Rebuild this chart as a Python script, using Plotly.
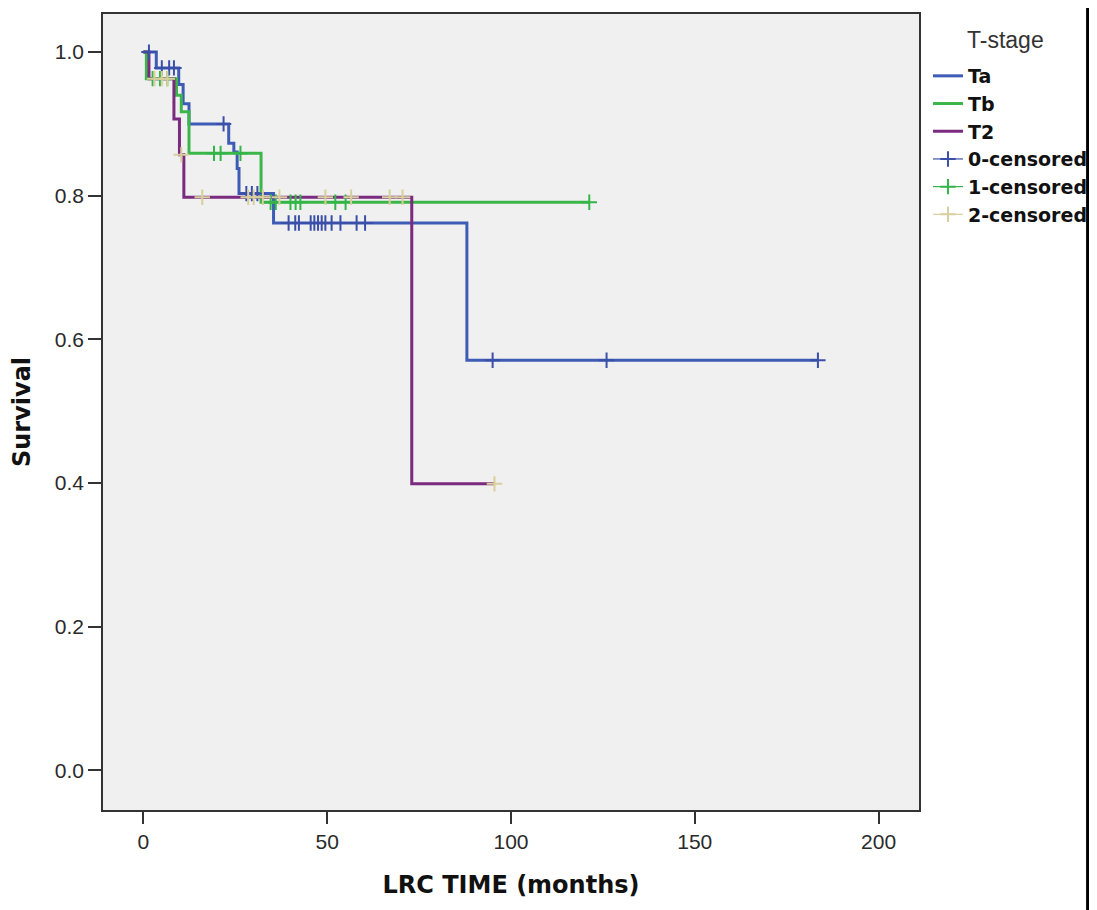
import numpy as np
import plotly.graph_objects as go

# ---- data (Kaplan-Meier curves by T-stage) ----
ta_time = [0, 3.5, 9.6, 10.8, 12.4, 23.2, 24.6, 25.5, 26.0, 35.4, 88.0]
ta_surv = [1.0, 0.978, 0.955, 0.928, 0.900, 0.873, 0.861, 0.838, 0.803, 0.762, 0.571]
ta_end = 183.5
ta_cens = [1.5, 5, 7, 8.3, 21.8, 28, 29.5, 31, 39.5, 41.3, 42.3, 45.5, 46.5, 47.5,
           48.5, 49.5, 51.2, 53.6, 58, 60.3, 95, 126, 183.5]

tb_time = [0, 0.8, 9.0, 10.3, 12.4, 32.0]
tb_surv = [1.0, 0.963, 0.940, 0.917, 0.859, 0.791]
tb_end = 121.3
tb_cens = [2.5, 4.5, 6.5, 19.2, 21, 26.4, 34.6, 36, 40, 41.4, 42.7, 52.2, 55, 121.3]

t2_time = [0, 1.5, 8.3, 9.8, 11.0, 73.0]
t2_surv = [1.0, 0.963, 0.907, 0.857, 0.798, 0.399]
t2_end = 95.5
t2_cens = [3, 5, 6.5, 10.3, 16, 28.5, 30, 32.5, 37, 49.5, 56.5, 67, 70.5, 95.5]

group_names = ["Ta", "Tb", "T2"]
censor_names = ["0-censored", "1-censored", "2-censored"]
legend_title = "T-stage"
x_ticks = [0, 50, 100, 150, 200]
y_ticks = [0.0, 0.2, 0.4, 0.6, 0.8, 1.0]

line_colors = ["#3E5BB5", "#3CB64A", "#7A2A7F"]
censor_colors = ["#3A4FA8", "#33B548", "#D8CF9C"]

WIDE = "DejaVu Sans"
ARIAL = "Liberation Sans"


def step_value(times, survs, t):
    idx = np.searchsorted(np.asarray(times), t, side="right") - 1
    return [survs[i] for i in idx]


def with_gaps(vals):
    out = []
    for v in vals:
        out += [v, None]
    return out


groups = [
    (ta_time, ta_surv, ta_end, ta_cens),
    (tb_time, tb_surv, tb_end, tb_cens),
    (t2_time, t2_surv, t2_end, t2_cens),
]

fig = go.Figure()
for i, (tt, ss, end, _) in enumerate(groups):
    fig.add_trace(go.Scatter(
        x=list(tt) + [end], y=list(ss) + [ss[-1]],
        mode="lines", line=dict(shape="hv", color=line_colors[i], width=3),
        name=group_names[i], legendgroup=group_names[i],
        hoverinfo="skip",
    ))
for i, (tt, ss, end, cc) in enumerate(groups):
    fig.add_trace(go.Scatter(
        x=with_gaps(cc), y=with_gaps(step_value(tt, ss, cc)),
        mode="lines+markers", connectgaps=False,
        line=dict(color=censor_colors[i], width=1.2),
        marker=dict(symbol="cross-thin", size=11,
                    line=dict(color=censor_colors[i], width=2)),
        name=censor_names[i], legendgroup=censor_names[i],
        hoverinfo="skip",
    ))

fig.update_layout(
    width=1089, height=902,
    margin=dict(l=95, r=176, t=4, b=100),
    plot_bgcolor="#F0F0F0", paper_bgcolor="white",
    font=dict(family=ARIAL, color="#222"),
    legend=dict(
        x=1.011, xanchor="left", y=0.946, yanchor="top",
        bgcolor="rgba(255,255,255,0)",
        font=dict(size=19, family=WIDE, color="#111", weight="bold"),
        tracegroupgap=0, itemwidth=30,
    ),
    annotations=[dict(
        text=legend_title, xref="paper", yref="paper",
        x=1.106, y=0.967, xanchor="center", yanchor="middle",
        showarrow=False, font=dict(size=23, family=ARIAL, color="#333"),
    )],
    xaxis=dict(
        range=[-11, 211], tickvals=x_ticks, ticks="outside", ticklen=12,
        tickcolor="#333", tickwidth=2,
        showline=True, linecolor="#333", linewidth=1.5, mirror=True,
        showgrid=False, zeroline=False,
        tickfont=dict(size=21, family=ARIAL, color="#2a2a2a"),
        title=dict(text="LRC TIME (months)", standoff=24,
                   font=dict(size=24, family=WIDE, color="#111", weight="bold")),
    ),
    yaxis=dict(
        range=[-0.055, 1.053], tickvals=y_ticks, tickformat=".1f",
        ticks="outside", ticklen=13, tickcolor="#333", tickwidth=2,
        showline=True, linecolor="#333", linewidth=1.5, mirror=True,
        showgrid=False, zeroline=False,
        tickfont=dict(size=21, family=ARIAL, color="#2a2a2a"),
        title=dict(text="Survival", standoff=18,
                   font=dict(size=24, family=WIDE, color="#111", weight="bold")),
    ),
    shapes=[dict(type="line", xref="paper", yref="paper",
                 x0=1.2066, x1=1.2066, y0=-0.14, y1=1.03,
                 line=dict(color="black", width=3))],
)

fig.write_html("out.html")
